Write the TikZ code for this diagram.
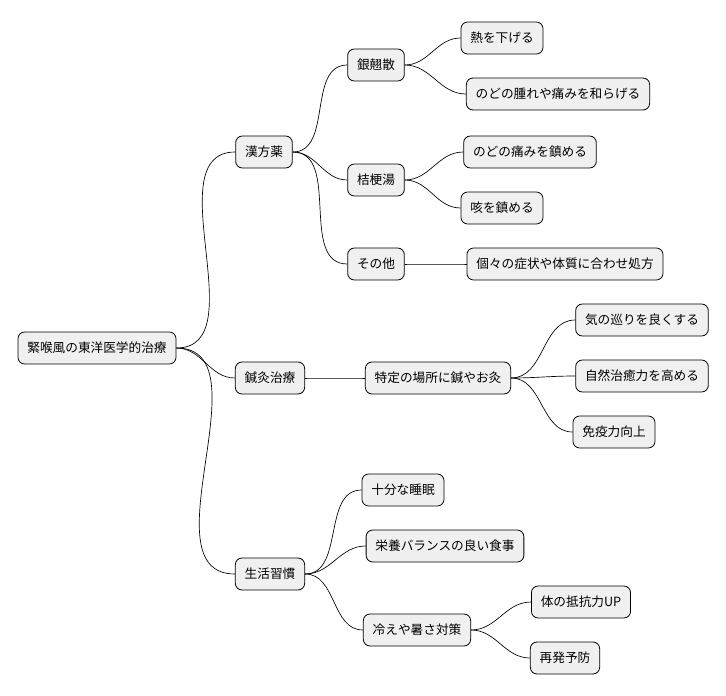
\documentclass[tikz,border=0pt]{standalone}
\usepackage{fontspec}
\setmainfont{Noto Sans CJK JP}
\usetikzlibrary{positioning}
\tikzset{
  topic/.style={draw,rounded corners=5pt,fill=black!6,font=\fontsize{9.5pt}{11pt}\selectfont,
    minimum height=24pt,inner xsep=7pt,line width=0.6pt},
  branch/.style={line width=0.5pt,out=0,in=180}
}
\begin{document}
\begin{tikzpicture}[x=0.75pt,y=-0.75pt]
  \useasboundingbox (0,0) rectangle (726,696);
  % root and first level
  \node[topic] (root) at (97,348) {緊喉風の東洋医学的治療};
  \node[topic] (kampo) at (264,152) {漢方薬};
  \node[topic] (shinkyu) at (270,378) {鍼灸治療};
  \node[topic] (seikatsu) at (270,574) {生活習慣};
  % kampo
  \node[topic] (ginkyo) at (376,65) {銀翹散};
  \node[topic] (netsu) at (502,38) {熱を下げる};
  \node[topic] (hare) at (558,94) {のどの腫れや痛みを和らげる};
  \node[topic] (kikyo) at (376,180) {桔梗湯};
  \node[topic] (itami) at (530,152) {のどの痛みを鎮める};
  \node[topic] (seki) at (502,208) {咳を鎮める};
  \node[topic] (sonota) at (376,264) {その他};
  \node[topic] (kobetsu) at (565,264) {個々の症状や体質に合わせ処方};
  % shinkyu
  \node[topic] (tokutei) at (438,378) {特定の場所に鍼やお灸};
  \node[topic] (ki) at (642,320) {気の巡りを良くする};
  \node[topic] (shizen) at (642,376) {自然治癒力を高める};
  \node[topic] (meneki) at (614,432) {免疫力向上};
  % seikatsu
  \node[topic] (suimin) at (403,490) {十分な睡眠};
  \node[topic] (eiyo) at (445,546) {栄養バランスの良い食事};
  \node[topic] (hie) at (417,630) {冷えや暑さ対策};
  \node[topic] (teiko) at (581,602) {体の抵抗力UP};
  \node[topic] (saihatsu) at (565,658) {再発予防};
  % connectors
  \foreach \a/\b in {root/kampo,root/shinkyu,root/seikatsu,
      kampo/ginkyo,kampo/kikyo,kampo/sonota,
      ginkyo/netsu,ginkyo/hare,kikyo/itami,kikyo/seki,sonota/kobetsu,
      shinkyu/tokutei,tokutei/ki,tokutei/shizen,tokutei/meneki,
      seikatsu/suimin,seikatsu/eiyo,seikatsu/hie,hie/teiko,hie/saihatsu}
    \draw[branch] (\a.east) to (\b.west);
\end{tikzpicture}
\end{document}
